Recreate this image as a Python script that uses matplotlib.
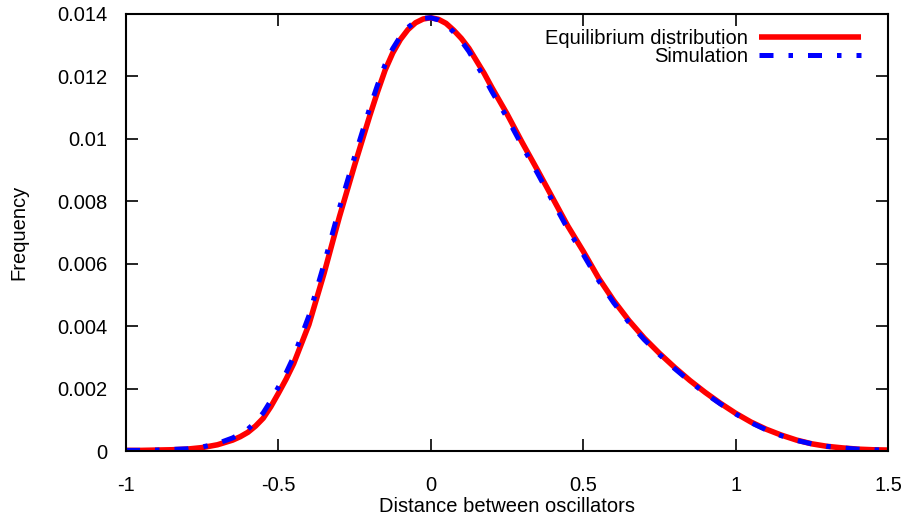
import numpy as np
import matplotlib
matplotlib.use('Agg')
import matplotlib.pyplot as plt

plt.rcParams['font.family'] = ['Liberation Sans', 'DejaVu Sans']

# values
dist = [-1.0, -0.95, -0.9, -0.85, -0.8, -0.75, -0.7, -0.65, -0.625, -0.6, -0.575,
        -0.55, -0.525, -0.5, -0.475, -0.45, -0.4, -0.35, -0.3, -0.25, -0.2, -0.175,
        -0.15, -0.125, -0.1, -0.075, -0.05, -0.025, 0.0, 0.025, 0.05, 0.075, 0.1,
        0.125, 0.15, 0.175, 0.2, 0.25, 0.3, 0.35, 0.4, 0.45, 0.5, 0.55, 0.6, 0.65,
        0.7, 0.75, 0.8, 0.85, 0.9, 0.95, 1.0, 1.05, 1.1, 1.15, 1.2, 1.25, 1.3,
        1.35, 1.4, 1.45, 1.5]
equilibrium = [0.00002, 0.00002, 0.00003, 0.00004, 0.00006, 0.00011, 0.0002, 0.00035,
               0.00046, 0.0006, 0.0008, 0.00105, 0.00142, 0.00185, 0.0023, 0.0028,
               0.00405, 0.0057, 0.0075, 0.00916, 0.01075, 0.0115, 0.0122, 0.01275,
               0.01318, 0.0135, 0.01372, 0.01384, 0.01388, 0.01383, 0.0137, 0.01348,
               0.01322, 0.0129, 0.0125, 0.0121, 0.01165, 0.0108, 0.00988, 0.009,
               0.0081, 0.0072, 0.0064, 0.00555, 0.00482, 0.00418, 0.00362, 0.00313,
               0.00268, 0.00226, 0.00188, 0.00153, 0.00121, 0.00093, 0.0007, 0.00051,
               0.00035, 0.00023, 0.00015, 0.0001, 0.00006, 0.00004, 0.00003]
simulation = [0.00002, 0.00002, 0.00003, 0.00005, 0.00007, 0.00013, 0.00024, 0.00042,
              0.00055, 0.0007, 0.00093, 0.00122, 0.00161, 0.00205, 0.0025, 0.00302,
              0.00433, 0.006, 0.00778, 0.00943, 0.011, 0.01172, 0.01238, 0.01289,
              0.01328, 0.01357, 0.01376, 0.01386, 0.01388, 0.01381, 0.01366, 0.01342,
              0.01314, 0.0128, 0.01238, 0.01197, 0.01152, 0.01068, 0.00977, 0.0089,
              0.008, 0.0071, 0.0063, 0.00547, 0.00475, 0.00412, 0.00357, 0.00309,
              0.00264, 0.00223, 0.00185, 0.00151, 0.00119, 0.00091, 0.00068, 0.00049,
              0.00034, 0.00023, 0.00015, 0.0001, 0.00006, 0.00004, 0.00003]

fig = plt.figure(figsize=(9.1, 5.22), dpi=100)
ax = fig.add_axes([0.1385, 0.136, 0.8373, 0.8372])

ax.plot(dist, equilibrium, color='#ff0000', lw=4, solid_capstyle='butt',
        solid_joinstyle='round', label='Equilibrium distribution')
ax.plot(dist, simulation, color='#0000ff', lw=3.6, dashes=(2.8, 3.0, 0.9, 3.0),
        dash_capstyle='butt', label='Simulation')

ax.set_xlim(-1, 1.5)
ax.set_ylim(0, 0.014)
ax.set_xticks([-1, -0.5, 0, 0.5, 1, 1.5])
ax.set_xticklabels(['-1', '-0.5', '0', '0.5', '1', '1.5'])
ax.set_yticks(np.arange(0, 0.0141, 0.002))
ax.set_yticklabels(['0', '0.002', '0.004', '0.006', '0.008', '0.01', '0.012', '0.014'])

ax.tick_params(direction='in', length=8.5, width=1.2, top=True, right=True,
               labelsize=14.5)
ax.tick_params(axis='x', pad=18)
ax.tick_params(axis='y', pad=13.5)
for s in ax.spines.values():
    s.set_linewidth(1.5)

ax.set_xlabel('Distance between oscillators', fontsize=14.5)
ax.xaxis.set_label_coords(0.5, -0.105)
ax.set_ylabel('Frequency', fontsize=14.5)
ax.yaxis.set_label_coords(-0.1286, 0.5)

ax.legend(loc='upper right', frameon=False, markerfirst=False, fontsize=14.5,
          handlelength=5.1, handletextpad=0.55, labelspacing=-0.05,
          borderaxespad=0.35, bbox_to_anchor=(0.985, 1.0))

fig.savefig('out.png', dpi=100)
